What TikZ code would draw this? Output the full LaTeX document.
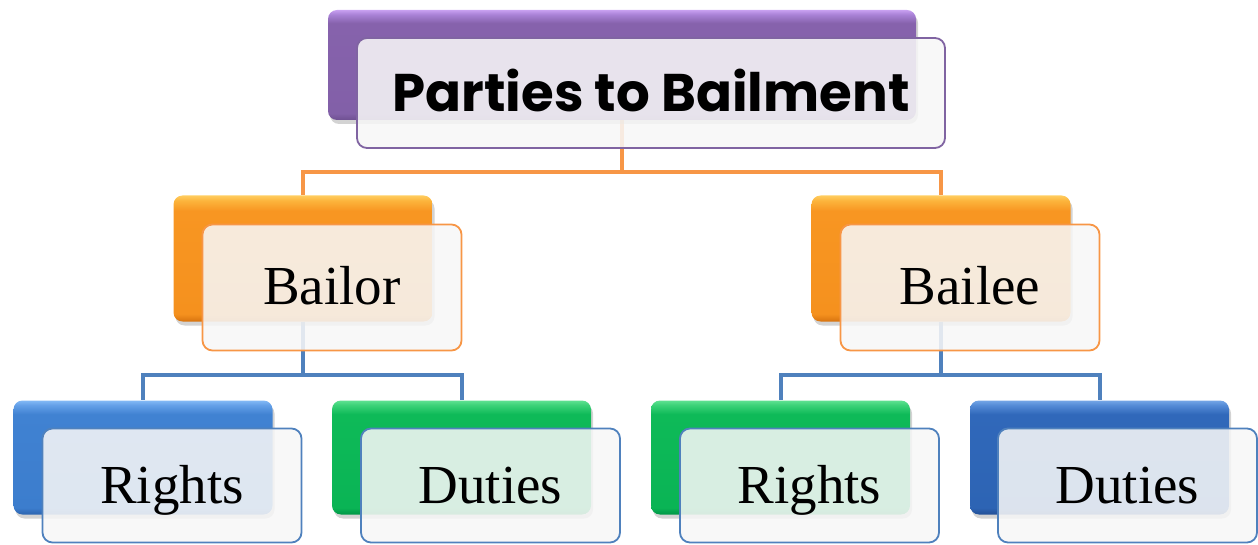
\documentclass[tikz,border=0pt]{standalone}
\usepackage{fontspec}
\setmainfont{Liberation Serif}
\newfontfamily\titlefont{Poppins}
\usetikzlibrary{shadows,backgrounds,calc}
\definecolor{purpB}{HTML}{8064A2}
\definecolor{orgB}{HTML}{F79646}
\definecolor{bluB}{HTML}{4F81BD}
% vertical shadings: path spans 25bp (bottom) .. 75bp (top)
\pgfdeclareverticalshading{purpshade}{100bp}{color(0bp)=(rgb,255:red,110;green,80;blue,145); color(25bp)=(rgb,255:red,110;green,80;blue,145); color(28bp)=(rgb,255:red,130;green,96;blue,168); color(69bp)=(rgb,255:red,134;green,98;blue,172); color(73bp)=(rgb,255:red,170;green,130;blue,215); color(75bp)=(rgb,255:red,200;green,160;blue,240); color(100bp)=(rgb,255:red,200;green,160;blue,240)}
\pgfdeclareverticalshading{orgshade}{100bp}{color(0bp)=(rgb,255:red,215;green,115;blue,15); color(25bp)=(rgb,255:red,215;green,115;blue,15); color(28bp)=(rgb,255:red,245;green,145;blue,30); color(69bp)=(rgb,255:red,248;green,150;blue,34); color(73bp)=(rgb,255:red,252;green,180;blue,60); color(75bp)=(rgb,255:red,255;green,205;blue,95); color(100bp)=(rgb,255:red,255;green,205;blue,95)}
\pgfdeclareverticalshading{blushade}{100bp}{color(0bp)=(rgb,255:red,45;green,100;blue,175); color(25bp)=(rgb,255:red,45;green,100;blue,175); color(28bp)=(rgb,255:red,60;green,125;blue,205); color(69bp)=(rgb,255:red,64;green,130;blue,210); color(73bp)=(rgb,255:red,100;green,160;blue,232); color(75bp)=(rgb,255:red,130;green,185;blue,245); color(100bp)=(rgb,255:red,130;green,185;blue,245)}
\pgfdeclareverticalshading{grnshade}{100bp}{color(0bp)=(rgb,255:red,0;green,150;blue,70); color(25bp)=(rgb,255:red,0;green,150;blue,70); color(28bp)=(rgb,255:red,10;green,180;blue,85); color(69bp)=(rgb,255:red,14;green,186;blue,88); color(73bp)=(rgb,255:red,60;green,210;blue,120); color(75bp)=(rgb,255:red,95;green,225;blue,145); color(100bp)=(rgb,255:red,95;green,225;blue,145)}
\pgfdeclareverticalshading{dblushade}{100bp}{color(0bp)=(rgb,255:red,35;green,80;blue,150); color(25bp)=(rgb,255:red,35;green,80;blue,150); color(28bp)=(rgb,255:red,45;green,100;blue,180); color(69bp)=(rgb,255:red,48;green,104;blue,186); color(73bp)=(rgb,255:red,85;green,140;blue,215); color(75bp)=(rgb,255:red,115;green,165;blue,230); color(100bp)=(rgb,255:red,115;green,165;blue,230)}
\begin{document}
\begin{tikzpicture}[x=1pt,y=-1pt,
  backbox/.style={rectangle, rounded corners=9pt, inner sep=0pt, shading=#1,
     drop shadow={opacity=0.35, shadow xshift=2pt, shadow yshift=-4pt}},
  frontbox/.style={rectangle, rounded corners=10pt, inner sep=0pt, draw=#1, line width=1.8pt,
     fill=white!94!gray, fill opacity=0.87, text opacity=1},
  bigbox/.style={minimum width=588pt, minimum height=110pt},
  midbox/.style={minimum width=259pt, minimum height=126pt},
  lowbox/.style={minimum width=259pt, minimum height=114pt},
  lbl/.style={font=\fontsize{55}{60}\selectfont, text height=35pt, text depth=0pt},
  ttl/.style={font=\titlefont\bfseries\fontsize{53}{60}\selectfont, text height=38pt, text depth=0pt},
  oline/.style={draw=orgB, line width=4pt},
  bline/.style={draw=bluB, line width=4pt}]
\useasboundingbox (0,0) rectangle (1258,545);

% top
\node[backbox=purpshade, bigbox] (topback) at (622,65) {};
\node[frontbox=purpB, bigbox, ttl] (topfront) at (651,93) {Parties to Bailment};

% middle
\node[backbox=orgshade, midbox] (bailorback) at (303,258.5) {};
\node[frontbox=orgB, midbox, lbl] (bailorfront) at (332,287.5) {Bailor};
\node[backbox=orgshade, midbox] (baileeback) at (941,258.5) {};
\node[frontbox=orgB, midbox, lbl] (baileefront) at (970,287.5) {Bailee};

% bottom
\node[backbox=blushade, lowbox] (r1back) at (143,457.5) {};
\node[frontbox=bluB, lowbox, lbl] (r1front) at (172,485.5) {Rights};
\node[backbox=grnshade, lowbox] (d1back) at (461.5,457.5) {};
\node[frontbox=bluB, lowbox, lbl] (d1front) at (490.5,485.5) {Duties};
\node[backbox=grnshade, lowbox] (r2back) at (780.5,457.5) {};
\node[frontbox=bluB, lowbox, lbl] (r2front) at (809.5,485.5) {Rights};
\node[backbox=dblushade, lowbox] (d2back) at (1099.5,457.5) {};
\node[frontbox=bluB, lowbox, lbl] (d2front) at (1127.5,485.5) {Duties};

\begin{scope}[on background layer]
  \draw[oline] (topback.south) -- ++(0,52) -| (bailorback.north);
  \draw[oline] (topback.south) -- ++(0,52) -| (baileeback.north);
  \draw[bline] (bailorback.south) -- ++(0,53) -| (r1back.north);
  \draw[bline] (bailorback.south) -- ++(0,53) -| (d1back.north);
  \draw[bline] (baileeback.south) -- ++(0,53) -| (r2back.north);
  \draw[bline] (baileeback.south) -- ++(0,53) -| (d2back.north);
\end{scope}
\end{tikzpicture}
\end{document}
